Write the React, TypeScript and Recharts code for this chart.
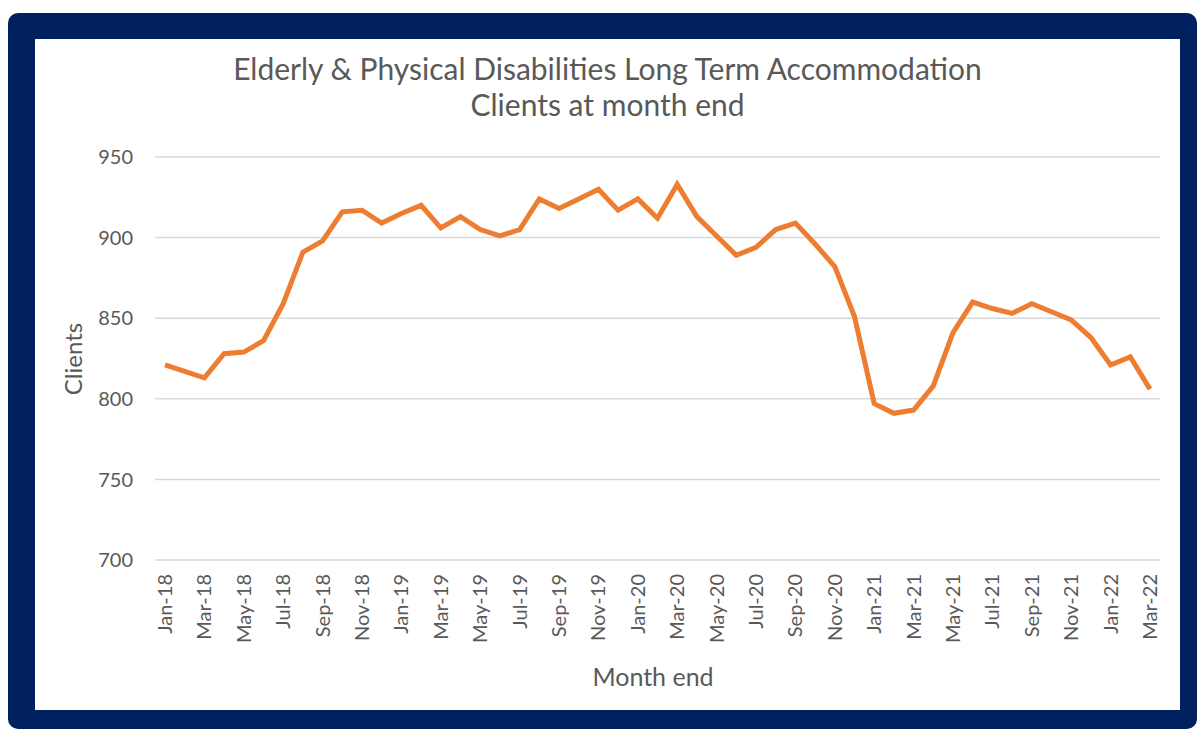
import React from 'react'
import { LineChart, Line, XAxis, YAxis, CartesianGrid } from 'recharts'

const months = [
  'Jan-18', 'Feb-18', 'Mar-18', 'Apr-18', 'May-18', 'Jun-18', 'Jul-18', 'Aug-18', 'Sep-18', 'Oct-18', 'Nov-18', 'Dec-18',
  'Jan-19', 'Feb-19', 'Mar-19', 'Apr-19', 'May-19', 'Jun-19', 'Jul-19', 'Aug-19', 'Sep-19', 'Oct-19', 'Nov-19', 'Dec-19',
  'Jan-20', 'Feb-20', 'Mar-20', 'Apr-20', 'May-20', 'Jun-20', 'Jul-20', 'Aug-20', 'Sep-20', 'Oct-20', 'Nov-20', 'Dec-20',
  'Jan-21', 'Feb-21', 'Mar-21', 'Apr-21', 'May-21', 'Jun-21', 'Jul-21', 'Aug-21', 'Sep-21', 'Oct-21', 'Nov-21', 'Dec-21',
  'Jan-22', 'Feb-22', 'Mar-22',
]

const clients = [
  821, 817, 813, 828, 829, 836, 859, 891, 898, 916, 917, 909,
  915, 920, 906, 913, 905, 901, 905, 924, 918, 924, 930, 917,
  924, 912, 933, 913, 901, 889, 894, 905, 909, 896, 882, 851,
  797, 791, 793, 808, 841, 860, 856, 853, 859, 854, 849, 838,
  821, 826, 806,
]

const yTicks = [700, 750, 800, 850, 900, 950]

const data = months.map((m, i) => ({ month: m, clients: clients[i] }))

const FONT = 'Lato, "Open Sans", sans-serif'
const TEXT = '#595959'

function MonthTick(props: any) {
  const { x, y, payload } = props
  return (
    <g transform={`translate(${x},${y})`}>
      <text
        transform="rotate(-90)"
        textAnchor="end"
        dy="0.35em"
        fill={TEXT}
        fontSize={20}
        fontFamily={FONT}
      >
        {payload.value}
      </text>
    </g>
  )
}

export default function App() {
  return (
    <div
      style={{
        position: 'absolute',
        left: 8,
        top: 13,
        width: 1189,
        height: 716,
        background: '#002060',
        borderRadius: 10,
      }}
    >
      <div
        style={{
          position: 'absolute',
          left: 27,
          top: 26,
          width: 1145,
          height: 671,
          background: '#fff',
          fontFamily: FONT,
          color: TEXT,
        }}
      >
        <div
          style={{
            position: 'absolute',
            left: 0,
            width: 1145,
            top: 11,
            textAlign: 'center',
            fontSize: 30,
            lineHeight: '36px',
          }}
        >
          Elderly &amp; Physical Disabilities Long Term Accommodation
          <br />
          Clients at month end
        </div>
        <div
          style={{
            position: 'absolute',
            left: 38 - 60,
            top: 320 - 15,
            width: 120,
            lineHeight: '30px',
            textAlign: 'center',
            fontSize: 24,
            transform: 'rotate(-90deg)',
          }}
        >
          Clients
        </div>
        <div
          style={{
            position: 'absolute',
            left: 618 - 100,
            top: 637 - 15,
            width: 200,
            lineHeight: '30px',
            textAlign: 'center',
            fontSize: 25,
          }}
        >
          Month end
        </div>
        <LineChart
          width={1145}
          height={671}
          data={data}
          margin={{ top: 118, right: 20, left: 0, bottom: 0 }}
        >
          <CartesianGrid vertical={false} stroke="#d9d9d9" strokeWidth={1.5} />
          <XAxis
            dataKey="month"
            interval={1}
            height={150}
            axisLine={false}
            tickLine={false}
            tickMargin={8}
            padding={{ left: 10, right: 10 }}
            tick={<MonthTick />}
          />
          <YAxis
            width={120}
            domain={[700, 950]}
            ticks={yTicks}
            axisLine={false}
            tickLine={false}
            tickMargin={16}
            tick={{ fill: TEXT, fontSize: 20, fontFamily: FONT }}
          />
          <Line
            type="linear"
            dataKey="clients"
            stroke="#ED7D31"
            strokeWidth={5}
            dot={false}
            isAnimationActive={false}
          />
        </LineChart>
      </div>
    </div>
  )
}
